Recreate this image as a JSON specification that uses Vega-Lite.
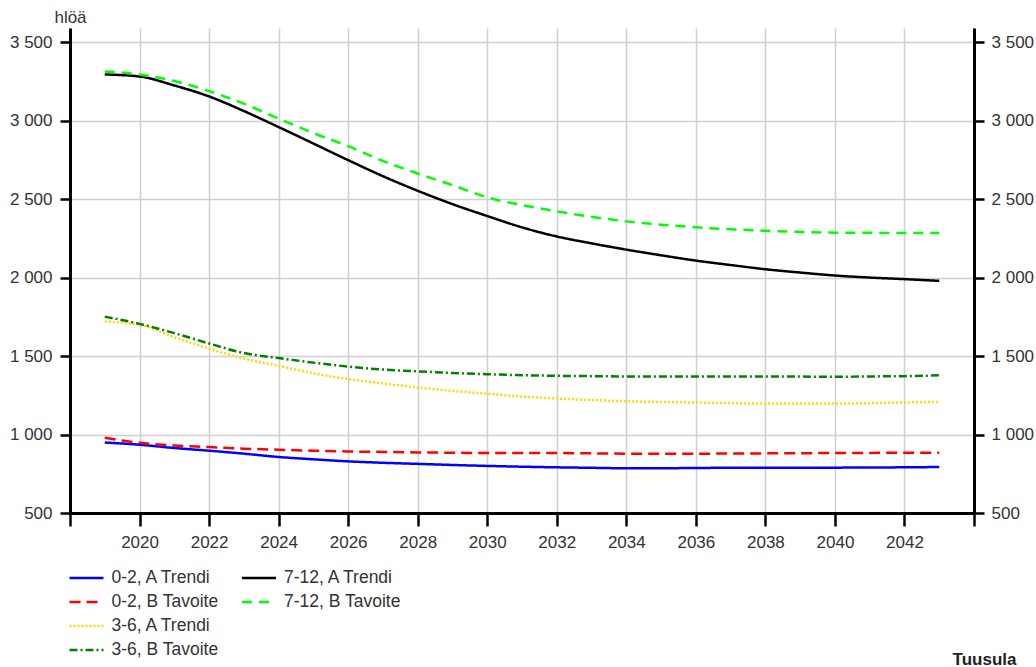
{
  "$schema": "https://vega.github.io/schema/vega-lite/v6.json",
  "autosize": {"type": "none"},
  "padding": {"left": 70, "top": 28, "right": 62, "bottom": 154},
  "width": 904,
  "height": 485,
  "background": "white",
  "config": {
    "view": {"stroke": null},
    "font": "Liberation Sans",
    "axis": {
      "labelFont": "Liberation Sans",
      "labelFontSize": 17,
      "labelColor": "#333333",
      "titleFont": "Liberation Sans",
      "titleFontSize": 17,
      "titleColor": "#333333",
      "titleFontWeight": "normal",
      "domainColor": "#000000",
      "domainWidth": 3,
      "tickColor": "#000000",
      "tickWidth": 2.5,
      "gridColor": "#d0d0d0",
      "gridWidth": 1.5,
      "labelOverlap": false,
      "labelFlush": false
    },
    "legend": {
      "labelFont": "Liberation Sans",
      "labelFontSize": 17.5,
      "labelColor": "#333333",
      "padding": 0
    }
  },
  "data": {
    "values": [
      {"year": 2019, "series": "0-2, A Trendi", "v": 949},
      {"year": 2020, "series": "0-2, A Trendi", "v": 935},
      {"year": 2021, "series": "0-2, A Trendi", "v": 914},
      {"year": 2022, "series": "0-2, A Trendi", "v": 897},
      {"year": 2023, "series": "0-2, A Trendi", "v": 878},
      {"year": 2024, "series": "0-2, A Trendi", "v": 857},
      {"year": 2025, "series": "0-2, A Trendi", "v": 842},
      {"year": 2026, "series": "0-2, A Trendi", "v": 829},
      {"year": 2027, "series": "0-2, A Trendi", "v": 820},
      {"year": 2028, "series": "0-2, A Trendi", "v": 813},
      {"year": 2029, "series": "0-2, A Trendi", "v": 806},
      {"year": 2030, "series": "0-2, A Trendi", "v": 800},
      {"year": 2031, "series": "0-2, A Trendi", "v": 795},
      {"year": 2032, "series": "0-2, A Trendi", "v": 791},
      {"year": 2033, "series": "0-2, A Trendi", "v": 788},
      {"year": 2034, "series": "0-2, A Trendi", "v": 785},
      {"year": 2035, "series": "0-2, A Trendi", "v": 785},
      {"year": 2036, "series": "0-2, A Trendi", "v": 787},
      {"year": 2037, "series": "0-2, A Trendi", "v": 788},
      {"year": 2038, "series": "0-2, A Trendi", "v": 789},
      {"year": 2039, "series": "0-2, A Trendi", "v": 789},
      {"year": 2040, "series": "0-2, A Trendi", "v": 789},
      {"year": 2041, "series": "0-2, A Trendi", "v": 790},
      {"year": 2042, "series": "0-2, A Trendi", "v": 791},
      {"year": 2043, "series": "0-2, A Trendi", "v": 793},

      {"year": 2019, "series": "0-2, B Tavoite", "v": 979},
      {"year": 2020, "series": "0-2, B Tavoite", "v": 947},
      {"year": 2021, "series": "0-2, B Tavoite", "v": 930},
      {"year": 2022, "series": "0-2, B Tavoite", "v": 920},
      {"year": 2023, "series": "0-2, B Tavoite", "v": 910},
      {"year": 2024, "series": "0-2, B Tavoite", "v": 903},
      {"year": 2025, "series": "0-2, B Tavoite", "v": 897},
      {"year": 2026, "series": "0-2, B Tavoite", "v": 892},
      {"year": 2027, "series": "0-2, B Tavoite", "v": 889},
      {"year": 2028, "series": "0-2, B Tavoite", "v": 886},
      {"year": 2029, "series": "0-2, B Tavoite", "v": 884},
      {"year": 2030, "series": "0-2, B Tavoite", "v": 882},
      {"year": 2031, "series": "0-2, B Tavoite", "v": 882},
      {"year": 2032, "series": "0-2, B Tavoite", "v": 882},
      {"year": 2033, "series": "0-2, B Tavoite", "v": 880},
      {"year": 2034, "series": "0-2, B Tavoite", "v": 878},
      {"year": 2035, "series": "0-2, B Tavoite", "v": 878},
      {"year": 2036, "series": "0-2, B Tavoite", "v": 878},
      {"year": 2037, "series": "0-2, B Tavoite", "v": 879},
      {"year": 2038, "series": "0-2, B Tavoite", "v": 880},
      {"year": 2039, "series": "0-2, B Tavoite", "v": 881},
      {"year": 2040, "series": "0-2, B Tavoite", "v": 882},
      {"year": 2041, "series": "0-2, B Tavoite", "v": 883},
      {"year": 2042, "series": "0-2, B Tavoite", "v": 884},
      {"year": 2043, "series": "0-2, B Tavoite", "v": 884},

      {"year": 2019, "series": "3-6, A Trendi", "v": 1720},
      {"year": 2020, "series": "3-6, A Trendi", "v": 1699},
      {"year": 2021, "series": "3-6, A Trendi", "v": 1620},
      {"year": 2022, "series": "3-6, A Trendi", "v": 1547},
      {"year": 2023, "series": "3-6, A Trendi", "v": 1484},
      {"year": 2024, "series": "3-6, A Trendi", "v": 1438},
      {"year": 2025, "series": "3-6, A Trendi", "v": 1390},
      {"year": 2026, "series": "3-6, A Trendi", "v": 1353},
      {"year": 2027, "series": "3-6, A Trendi", "v": 1325},
      {"year": 2028, "series": "3-6, A Trendi", "v": 1300},
      {"year": 2029, "series": "3-6, A Trendi", "v": 1278},
      {"year": 2030, "series": "3-6, A Trendi", "v": 1260},
      {"year": 2031, "series": "3-6, A Trendi", "v": 1242},
      {"year": 2032, "series": "3-6, A Trendi", "v": 1229},
      {"year": 2033, "series": "3-6, A Trendi", "v": 1220},
      {"year": 2034, "series": "3-6, A Trendi", "v": 1212},
      {"year": 2035, "series": "3-6, A Trendi", "v": 1207},
      {"year": 2036, "series": "3-6, A Trendi", "v": 1204},
      {"year": 2037, "series": "3-6, A Trendi", "v": 1200},
      {"year": 2038, "series": "3-6, A Trendi", "v": 1197},
      {"year": 2039, "series": "3-6, A Trendi", "v": 1197},
      {"year": 2040, "series": "3-6, A Trendi", "v": 1197},
      {"year": 2041, "series": "3-6, A Trendi", "v": 1200},
      {"year": 2042, "series": "3-6, A Trendi", "v": 1204},
      {"year": 2043, "series": "3-6, A Trendi", "v": 1208},

      {"year": 2019, "series": "3-6, B Tavoite", "v": 1751},
      {"year": 2020, "series": "3-6, B Tavoite", "v": 1705},
      {"year": 2021, "series": "3-6, B Tavoite", "v": 1646},
      {"year": 2022, "series": "3-6, B Tavoite", "v": 1580},
      {"year": 2023, "series": "3-6, B Tavoite", "v": 1519},
      {"year": 2024, "series": "3-6, B Tavoite", "v": 1487},
      {"year": 2025, "series": "3-6, B Tavoite", "v": 1458},
      {"year": 2026, "series": "3-6, B Tavoite", "v": 1433},
      {"year": 2027, "series": "3-6, B Tavoite", "v": 1414},
      {"year": 2028, "series": "3-6, B Tavoite", "v": 1402},
      {"year": 2029, "series": "3-6, B Tavoite", "v": 1392},
      {"year": 2030, "series": "3-6, B Tavoite", "v": 1384},
      {"year": 2031, "series": "3-6, B Tavoite", "v": 1378},
      {"year": 2032, "series": "3-6, B Tavoite", "v": 1374},
      {"year": 2033, "series": "3-6, B Tavoite", "v": 1372},
      {"year": 2034, "series": "3-6, B Tavoite", "v": 1370},
      {"year": 2035, "series": "3-6, B Tavoite", "v": 1370},
      {"year": 2036, "series": "3-6, B Tavoite", "v": 1370},
      {"year": 2037, "series": "3-6, B Tavoite", "v": 1370},
      {"year": 2038, "series": "3-6, B Tavoite", "v": 1370},
      {"year": 2039, "series": "3-6, B Tavoite", "v": 1369},
      {"year": 2040, "series": "3-6, B Tavoite", "v": 1368},
      {"year": 2041, "series": "3-6, B Tavoite", "v": 1370},
      {"year": 2042, "series": "3-6, B Tavoite", "v": 1372},
      {"year": 2043, "series": "3-6, B Tavoite", "v": 1377},

      {"year": 2019, "series": "7-12, A Trendi", "v": 3294},
      {"year": 2020, "series": "7-12, A Trendi", "v": 3281},
      {"year": 2021, "series": "7-12, A Trendi", "v": 3224},
      {"year": 2022, "series": "7-12, A Trendi", "v": 3154},
      {"year": 2023, "series": "7-12, A Trendi", "v": 3061},
      {"year": 2024, "series": "7-12, A Trendi", "v": 2959},
      {"year": 2025, "series": "7-12, A Trendi", "v": 2854},
      {"year": 2026, "series": "7-12, A Trendi", "v": 2748},
      {"year": 2027, "series": "7-12, A Trendi", "v": 2646},
      {"year": 2028, "series": "7-12, A Trendi", "v": 2553},
      {"year": 2029, "series": "7-12, A Trendi", "v": 2468},
      {"year": 2030, "series": "7-12, A Trendi", "v": 2392},
      {"year": 2031, "series": "7-12, A Trendi", "v": 2320},
      {"year": 2032, "series": "7-12, A Trendi", "v": 2262},
      {"year": 2033, "series": "7-12, A Trendi", "v": 2218},
      {"year": 2034, "series": "7-12, A Trendi", "v": 2178},
      {"year": 2035, "series": "7-12, A Trendi", "v": 2142},
      {"year": 2036, "series": "7-12, A Trendi", "v": 2108},
      {"year": 2037, "series": "7-12, A Trendi", "v": 2080},
      {"year": 2038, "series": "7-12, A Trendi", "v": 2053},
      {"year": 2039, "series": "7-12, A Trendi", "v": 2032},
      {"year": 2040, "series": "7-12, A Trendi", "v": 2013},
      {"year": 2041, "series": "7-12, A Trendi", "v": 2000},
      {"year": 2042, "series": "7-12, A Trendi", "v": 1990},
      {"year": 2043, "series": "7-12, A Trendi", "v": 1979},

      {"year": 2019, "series": "7-12, B Tavoite", "v": 3313},
      {"year": 2020, "series": "7-12, B Tavoite", "v": 3294},
      {"year": 2021, "series": "7-12, B Tavoite", "v": 3252},
      {"year": 2022, "series": "7-12, B Tavoite", "v": 3188},
      {"year": 2023, "series": "7-12, B Tavoite", "v": 3108},
      {"year": 2024, "series": "7-12, B Tavoite", "v": 3013},
      {"year": 2025, "series": "7-12, B Tavoite", "v": 2921},
      {"year": 2026, "series": "7-12, B Tavoite", "v": 2837},
      {"year": 2027, "series": "7-12, B Tavoite", "v": 2743},
      {"year": 2028, "series": "7-12, B Tavoite", "v": 2663},
      {"year": 2029, "series": "7-12, B Tavoite", "v": 2589},
      {"year": 2030, "series": "7-12, B Tavoite", "v": 2511},
      {"year": 2031, "series": "7-12, B Tavoite", "v": 2462},
      {"year": 2032, "series": "7-12, B Tavoite", "v": 2422},
      {"year": 2033, "series": "7-12, B Tavoite", "v": 2387},
      {"year": 2034, "series": "7-12, B Tavoite", "v": 2358},
      {"year": 2035, "series": "7-12, B Tavoite", "v": 2337},
      {"year": 2036, "series": "7-12, B Tavoite", "v": 2320},
      {"year": 2037, "series": "7-12, B Tavoite", "v": 2308},
      {"year": 2038, "series": "7-12, B Tavoite", "v": 2298},
      {"year": 2039, "series": "7-12, B Tavoite", "v": 2291},
      {"year": 2040, "series": "7-12, B Tavoite", "v": 2286},
      {"year": 2041, "series": "7-12, B Tavoite", "v": 2285},
      {"year": 2042, "series": "7-12, B Tavoite", "v": 2284},
      {"year": 2043, "series": "7-12, B Tavoite", "v": 2284}
    ]
  },
  "layer": [
    {
      "transform": [{"filter": "indexof(datum.series, '7-12') < 0"}],
      "mark": {"type": "line", "interpolate": "monotone", "strokeWidth": 2.5, "strokeCap": "butt"},
      "encoding": {
        "x": {
          "field": "year", "type": "quantitative",
          "scale": {"domain": [2018, 2044], "nice": false, "zero": false},
          "axis": {
            "values": [2018, 2020, 2022, 2024, 2026, 2028, 2030, 2032, 2034, 2036, 2038, 2040, 2042, 2044],
            "labelExpr": "datum.value == 2018 || datum.value == 2044 ? '' : format(datum.value, 'd')",
            "tickSize": 13,
            "labelPadding": 8,
            "grid": true,
            "title": "Tuusula",
            "titleFontWeight": "bold",
            "titleColor": "#222222",
            "titleAlign": "right",
            "titleAnchor": null,
            "titleBaseline": "alphabetic",
            "titleX": 946,
            "titleY": 151
          }
        },
        "y": {
          "field": "v", "type": "quantitative",
          "scale": {"domain": [500, 3590], "nice": false, "zero": false},
          "axis": {
            "orient": "left",
            "values": [500, 1000, 1500, 2000, 2500, 3000, 3500],
            "labelExpr": "replace(format(datum.value, ','), ',', ' ')",
            "tickSize": 10,
            "labelPadding": 8,
            "grid": true,
            "title": "hlöä",
            "titleAngle": 0,
            "titleAlign": "center",
            "titleAnchor": null,
            "titleBaseline": "alphabetic",
            "titleX": 0,
            "titleY": -6
          }
        },
        "color": {
          "field": "series", "type": "nominal",
          "scale": {
            "domain": ["0-2, A Trendi", "0-2, B Tavoite", "3-6, A Trendi", "3-6, B Tavoite"],
            "range": ["#0000ff", "#ff0000", "#ffd700", "#008000"]
          },
          "legend": {
            "title": null, "orient": "none", "legendX": 6.5, "legendY": 540,
            "symbolType": "M-2,0H2", "symbolSize": 289, "symbolStrokeWidth": 2.5,
            "rowPadding": 5, "labelOffset": 15, "direction": "vertical"
          }
        },
        "strokeDash": {
          "field": "series", "type": "nominal",
          "scale": {
            "domain": ["0-2, A Trendi", "0-2, B Tavoite", "3-6, A Trendi", "3-6, B Tavoite"],
            "range": [[1, 0], [11, 6], [2, 2], [8, 3, 2, 3]]
          },
          "legend": {
            "title": null, "orient": "none", "legendX": 6.5, "legendY": 540,
            "symbolType": "M-2,0H2", "symbolSize": 289, "symbolStrokeWidth": 2.5,
            "rowPadding": 5, "labelOffset": 15, "direction": "vertical"
          }
        }
      }
    },
    {
      "transform": [{"filter": "indexof(datum.series, '7-12') >= 0"}],
      "mark": {"type": "line", "interpolate": "monotone", "strokeWidth": 2.5, "strokeCap": "butt"},
      "encoding": {
        "x": {"field": "year", "type": "quantitative"},
        "y": {
          "field": "v", "type": "quantitative",
          "axis": {
            "orient": "right",
            "values": [500, 1000, 1500, 2000, 2500, 3000, 3500],
            "labelExpr": "replace(format(datum.value, ','), ',', ' ')",
            "tickSize": 10,
            "labelPadding": 7,
            "grid": false,
            "title": null
          }
        },
        "color": {
          "field": "series", "type": "nominal",
          "scale": {
            "domain": ["7-12, A Trendi", "7-12, B Tavoite"],
            "range": ["#000000", "#00ff00"]
          },
          "legend": {
            "title": null, "orient": "none", "legendX": 179, "legendY": 540,
            "symbolType": "M-2,0H2", "symbolSize": 289, "symbolStrokeWidth": 2.5,
            "rowPadding": 5, "labelOffset": 15, "direction": "vertical"
          }
        },
        "strokeDash": {
          "field": "series", "type": "nominal",
          "scale": {
            "domain": ["7-12, A Trendi", "7-12, B Tavoite"],
            "range": [[1, 0], [10, 7]]
          },
          "legend": {
            "title": null, "orient": "none", "legendX": 179, "legendY": 540,
            "symbolType": "M-2,0H2", "symbolSize": 289, "symbolStrokeWidth": 2.5,
            "rowPadding": 5, "labelOffset": 15, "direction": "vertical"
          }
        }
      }
    }
  ],
  "resolve": {
    "scale": {"color": "independent", "strokeDash": "independent"},
    "axis": {"y": "independent"},
    "legend": {"color": "independent", "strokeDash": "independent"}
  }
}
